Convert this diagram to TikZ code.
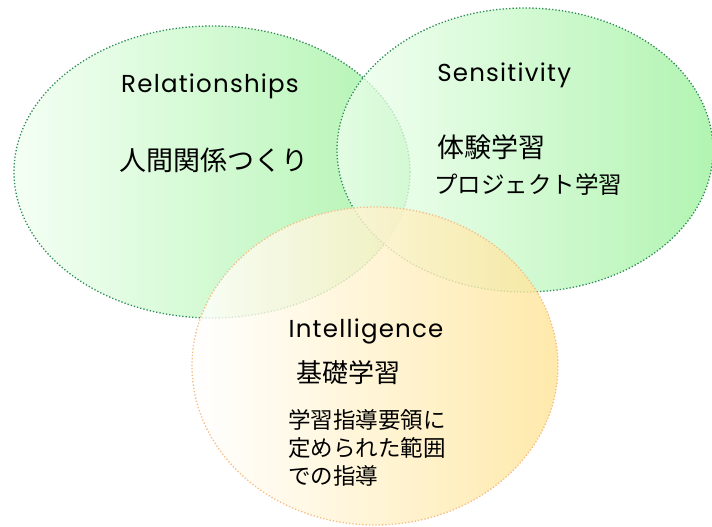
\documentclass[tikz,border=0pt]{standalone}
\usepackage{fontspec}
\setmainfont{Noto Sans CJK JP}
\newfontfamily\headfont[LetterSpace=5]{Poppins}
\usetikzlibrary{positioning}
\definecolor{leafpale}{HTML}{F0FFF0}
\definecolor{leafdeep}{HTML}{98F098}
\definecolor{leafline}{HTML}{2E8B57}
\definecolor{sunpale}{HTML}{FFFFFF}
\definecolor{sundeep}{HTML}{FFE496}
\definecolor{sunline}{HTML}{F6BC84}

\begin{document}
\begin{tikzpicture}[x=1pt, y=-1pt, semithick,
    greenset/.style={draw=leafline, dotted, line width=1.3pt, left color=leafpale, right color=leafdeep, fill opacity=0.75},
    yellowset/.style={draw=sunline, dotted, line width=1.3pt, left color=sunpale, right color=sundeep, fill opacity=0.8},
    heading/.style={inner sep=0pt, font=\headfont\fontsize{24.5}{28}\selectfont},
    jtext/.style={inner sep=0pt, font=\fontsize{27}{30}\selectfont},
    jsmall/.style={inner sep=0pt, font=\fontsize{23.5}{28}\selectfont},
    jnote/.style={inner sep=0pt, align=left, font=\fontsize{22.5}{28}\selectfont}]
        \useasboundingbox (0,0) rectangle (712,527);

        % the three sets
        \shade[greenset] (212,172) ellipse [x radius=198, y radius=146];
        \shade[greenset] (525,150) ellipse [x radius=188, y radius=142];
        \shade[yellowset] (375,366) ellipse [x radius=183, y radius=159];

        % Relationships
        \node[heading] (rel) at (210,86) {Relationships};
        \node[jtext] (relja) at (214,160) {人間関係つくり};

        % Sensitivity
        \node[heading, anchor=west] (sens) at (437,75) {Sensitivity};
        \node[jtext, anchor=west] (sensja) at (437,147) {体験学習};
        \node[jsmall, anchor=west] (proj) [below=14pt of sensja.south west, anchor=north west, xshift=-3pt] {プロジェクト学習};

        % Intelligence
        \node[heading] (intel) at (366,331) {Intelligence};
        \node[jtext, anchor=west, font=\fontsize{26}{30}\selectfont] (basic) at (296,373) {基礎学習};
        \node[jnote] (guide) [below=24pt of basic.south west, anchor=north west, xshift=-8pt] {学習指導要領に\\定められた範囲\\での指導};
\end{tikzpicture}
\end{document}
